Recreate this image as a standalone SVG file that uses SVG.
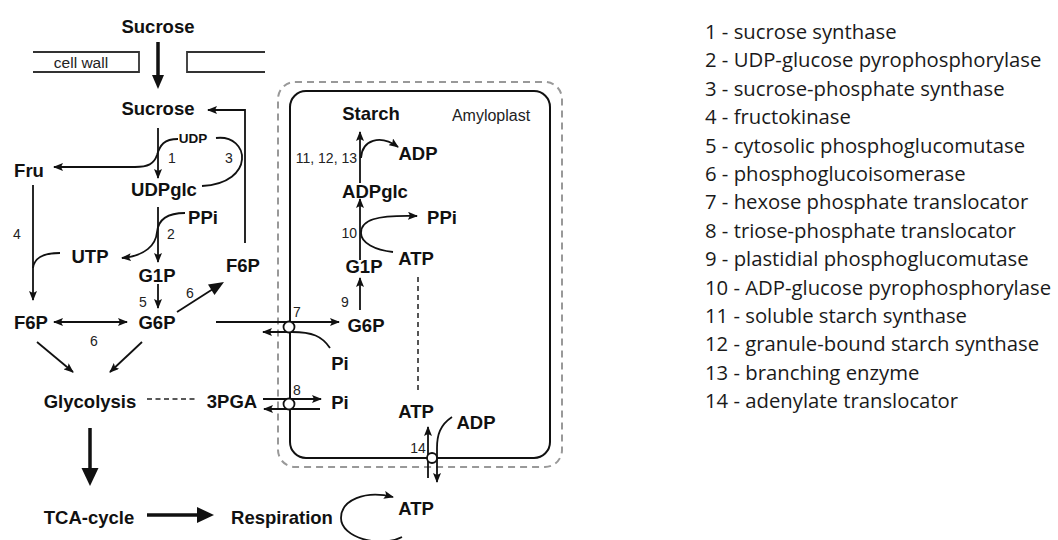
<svg xmlns="http://www.w3.org/2000/svg" width="1058" height="540" viewBox="0 0 1058 540">
<style>
.m{font-family:"Liberation Sans",Arial,sans-serif;font-weight:bold;font-size:18.5px;fill:#111;text-anchor:middle}
.s{font-family:"Liberation Sans",Arial,sans-serif;font-size:14px;fill:#222;text-anchor:middle}
.sb{font-family:"Liberation Sans",Arial,sans-serif;font-weight:bold;font-size:13.5px;fill:#111;text-anchor:middle}
.lg{font-family:"Open Sans","Noto Sans",sans-serif;font-size:20.3px;fill:#1a1a1a}
.c{fill:none;stroke:#111;stroke-width:1.8}
.ar{marker-end:url(#ah)}
.thick{fill:none;stroke:#111;stroke-width:3.5}
</style>
<defs>
<marker id="ah" viewBox="0 0 10 8" refX="9" refY="4" markerWidth="10" markerHeight="8" markerUnits="userSpaceOnUse" orient="auto-start-reverse"><path d="M0,0 L10,4 L0,8 L2,4 z" fill="#111"/></marker>
</defs>
<rect width="1058" height="540" fill="#fff"/>

<g id="cellwall">
<path d="M33,52 H139 V72 H33" fill="none" stroke="#333" stroke-width="1.8"/>
<path d="M265,52 H187 V72 H265" fill="none" stroke="#333" stroke-width="1.8"/>
<text class="s" x="81" y="67.5" style="font-size:15.5px">cell wall</text>
</g>

<g id="amyloplast">
<rect x="278" y="82" width="284" height="385" rx="17" fill="none" stroke="#999" stroke-width="2" stroke-dasharray="7,5"/>
<rect x="290" y="91" width="260" height="367" rx="16" fill="none" stroke="#111" stroke-width="2"/>
<text class="s" x="491" y="121" style="font-size:16px">Amyloplast</text>
</g>

<g id="connectors">
<line class="thick" x1="158" y1="42" x2="158" y2="76"/>
<polygon points="152,75 164,75 158,89" fill="#111"/>
<path class="c ar" d="M245,243 V110 H208"/>
<path class="c ar" d="M158,128 V178"/>
<path class="c ar" d="M178,139 C164,139 160,145 157,155 C154,164 148,167 135,167 L54,167"/>
<path class="c" d="M216,138 C250,134 256,183 202,186"/>
<path class="c ar" d="M158,207 V262"/>
<path class="c ar" d="M185,213 C165,213 158,222 157,232 C156,245 145,256 122,258"/>
<path class="c ar" d="M33,185 V300"/>
<path class="c" d="M60,253 C42,253 34,258 33,268"/>
<path class="c ar" d="M158,284 V308"/>
<path class="c" d="M54,322 H127" style="marker-start:url(#ah);marker-end:url(#ah)"/>
<line x1="177" y1="312" x2="213" y2="289" stroke="#111" stroke-width="1.8"/>
<polygon points="224,282 208,284.5 214.5,295" fill="#111"/>
<path class="c ar" d="M37,342 L73,372"/>
<path class="c ar" d="M142,342 L110,372"/>
<line x1="147" y1="399" x2="195" y2="399" stroke="#222" stroke-width="1.5" stroke-dasharray="5,3.5"/>
<line class="thick" x1="90" y1="428" x2="90" y2="470"/>
<polygon points="81.5,468 98.5,468 90,486" fill="#111"/>
<line class="thick" x1="147" y1="515" x2="199" y2="515"/>
<polygon points="197,507 197,523 214,515" fill="#111"/>
<path class="c ar" d="M402,537 C380,548 341,538 341,518 C341,500 365,490 393,497"/>
<path class="c ar" d="M360,183 V132"/>
<path class="c ar" d="M361,158 C362,140 380,134 398,147"/>
<path class="c ar" d="M360,260 V199"/>
<path class="c ar" d="M393,252 C375,250 361,243 361,233 C361,220 375,215 417,216"/>
<line x1="418" y1="277" x2="418" y2="392" stroke="#555" stroke-width="2" stroke-dasharray="5,4"/>
<path class="c ar" d="M360,310 V278"/>
<path class="c ar" d="M216,322 H339"/>
<path class="c ar" d="M330,348 C322,336 312,332 292,332 L263,332"/>
<circle cx="289" cy="327" r="5.5" fill="#fff" stroke="#111" stroke-width="1.8"/>
<path class="c ar" d="M263,399 H321"/>
<path class="c ar" d="M320,409 H264"/>
<circle cx="289" cy="404" r="5.5" fill="#fff" stroke="#111" stroke-width="1.8"/>
<path class="c ar" d="M428,478 V427"/>
<path class="c ar" d="M452,417 C440,425 437,435 437,448 V482"/>
<circle cx="432" cy="458" r="5" fill="#fff" stroke="#111" stroke-width="1.8"/>
</g>

<g id="labels">
<text class="s" x="172" y="163">1</text>
<text class="s" x="229" y="163">3</text>
<text class="s" x="171" y="239">2</text>
<text class="s" x="17" y="239">4</text>
<text class="s" x="143" y="307">5</text>
<text class="s" x="94" y="346">6</text>
<text class="s" x="190" y="298">6</text>
<text class="s" x="297" y="317">7</text>
<text class="s" x="297" y="395">8</text>
<text class="s" x="345" y="307">9</text>
<text class="s" x="357" y="238" style="text-anchor:end">10</text>
<text class="s" x="357" y="163" style="text-anchor:end">11, 12, 13</text>
<text class="s" x="418" y="453">14</text>
</g>

<g id="n-sucrose-out"><text class="m" x="158" y="33">Sucrose</text></g>
<g id="n-sucrose"><text class="m" x="158" y="115">Sucrose</text></g>
<g id="n-udp"><text class="sb" x="193" y="143">UDP</text></g>
<g id="n-fru"><text class="m" x="29" y="177">Fru</text></g>
<g id="n-udpglc"><text class="m" x="164" y="196">UDPglc</text></g>
<g id="n-ppi"><text class="m" x="203" y="224">PPi</text></g>
<g id="n-utp"><text class="m" x="90" y="263">UTP</text></g>
<g id="n-g1p"><text class="m" x="157" y="282">G1P</text></g>
<g id="n-f6p-r"><text class="m" x="243" y="272">F6P</text></g>
<g id="n-f6p-l"><text class="m" x="31" y="329">F6P</text></g>
<g id="n-g6p"><text class="m" x="157" y="329">G6P</text></g>
<g id="n-glycolysis"><text class="m" x="90" y="408">Glycolysis</text></g>
<g id="n-3pga"><text class="m" x="232" y="408">3PGA</text></g>
<g id="n-tca"><text class="m" x="89" y="524">TCA-cycle</text></g>
<g id="n-resp"><text class="m" x="282" y="524">Respiration</text></g>
<g id="n-atp-resp"><text class="m" x="416" y="515">ATP</text></g>
<g id="n-starch"><text class="m" x="371" y="120">Starch</text></g>
<g id="n-adp1"><text class="m" x="418" y="160">ADP</text></g>
<g id="n-adpglc"><text class="m" x="375" y="198">ADPglc</text></g>
<g id="n-ppi2"><text class="m" x="442" y="224">PPi</text></g>
<g id="n-atp1"><text class="m" x="416" y="265">ATP</text></g>
<g id="n-g1p2"><text class="m" x="364" y="273">G1P</text></g>
<g id="n-g6p2"><text class="m" x="366" y="332">G6P</text></g>
<g id="n-pi1"><text class="m" x="340" y="370">Pi</text></g>
<g id="n-pi2"><text class="m" x="340" y="409">Pi</text></g>
<g id="n-atp2"><text class="m" x="416" y="418">ATP</text></g>
<g id="n-adp2"><text class="m" x="476" y="429">ADP</text></g>

<g id="legend">
<text class="lg" x="705" y="39">1 - sucrose synthase</text>
<text class="lg" x="705" y="67.4">2 - UDP-glucose pyrophosphorylase</text>
<text class="lg" x="705" y="95.8">3 - sucrose-phosphate synthase</text>
<text class="lg" x="705" y="124.2">4 - fructokinase</text>
<text class="lg" x="705" y="152.6">5 - cytosolic phosphoglucomutase</text>
<text class="lg" x="705" y="181">6 - phosphoglucoisomerase</text>
<text class="lg" x="705" y="209.4">7 - hexose phosphate translocator</text>
<text class="lg" x="705" y="237.8">8 - triose-phosphate translocator</text>
<text class="lg" x="705" y="266.2">9 - plastidial phosphoglucomutase</text>
<text class="lg" x="705" y="294.6">10 - ADP-glucose pyrophosphorylase</text>
<text class="lg" x="705" y="323">11 - soluble starch synthase</text>
<text class="lg" x="705" y="351.4">12 - granule-bound starch synthase</text>
<text class="lg" x="705" y="379.8">13 - branching enzyme</text>
<text class="lg" x="705" y="408.2">14 - adenylate translocator</text>
</g>
</svg>
